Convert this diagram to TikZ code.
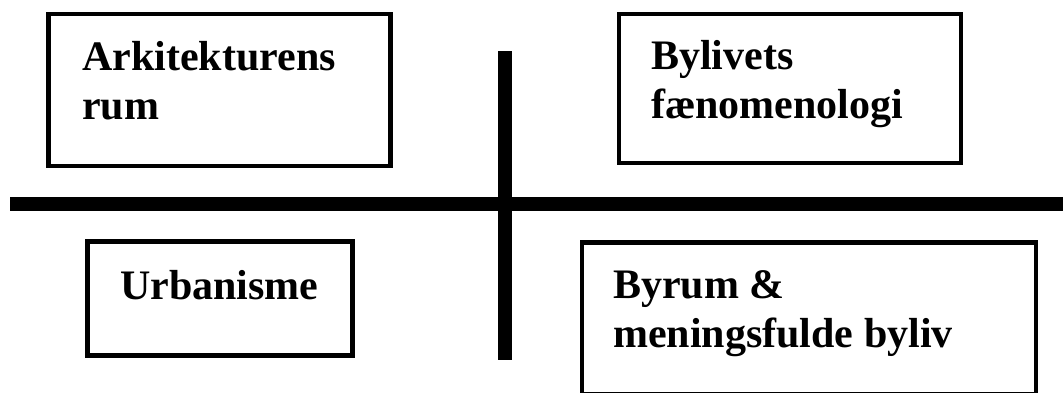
\documentclass[tikz,border=0pt]{standalone}
\usepackage{fontspec}
\setmainfont{Liberation Serif}
\begin{document}
\begin{tikzpicture}[x=1pt,y=-1pt,
  quadbox/.style={draw=black, line width=4.5pt, fill=none},
  bar/.style={line width=14pt, black},
  lbl/.style={anchor=base west, inner sep=0pt, align=left,
    font=\fontsize{42}{49}\selectfont\bfseries}]
\useasboundingbox[fill=white] (0,0) rectangle (1063,392);
% boxes
\draw[quadbox] (48.5,14) rectangle (390.5,166);
\draw[quadbox] (619,14) rectangle (961,163);
\draw[quadbox] (87.5,241.5) rectangle (352.5,355.5);
\draw[quadbox] (582,242.5) rectangle (1036,394);
% cross
\coordinate (hl) at (10,204);
\coordinate (hr) at (1070,204);
\coordinate (vt) at (505,51);
\coordinate (vb) at (505,360);
\draw[bar] (hl) -- (hr);
\draw[bar] (vt) -- (vb);
% labels (anchor is the baseline of the last line)
\node[lbl] (ark) at (82,119) {Arkitekturens\\rum};
\node[lbl] (byl) at (651,118) {Bylivets\\fænomenologi};
\node[lbl] (urb) at (120,299) {Urbanisme};
\node[lbl] (byr) at (613,347) {Byrum \&\\meningsfulde byliv};
\end{tikzpicture}
\end{document}
